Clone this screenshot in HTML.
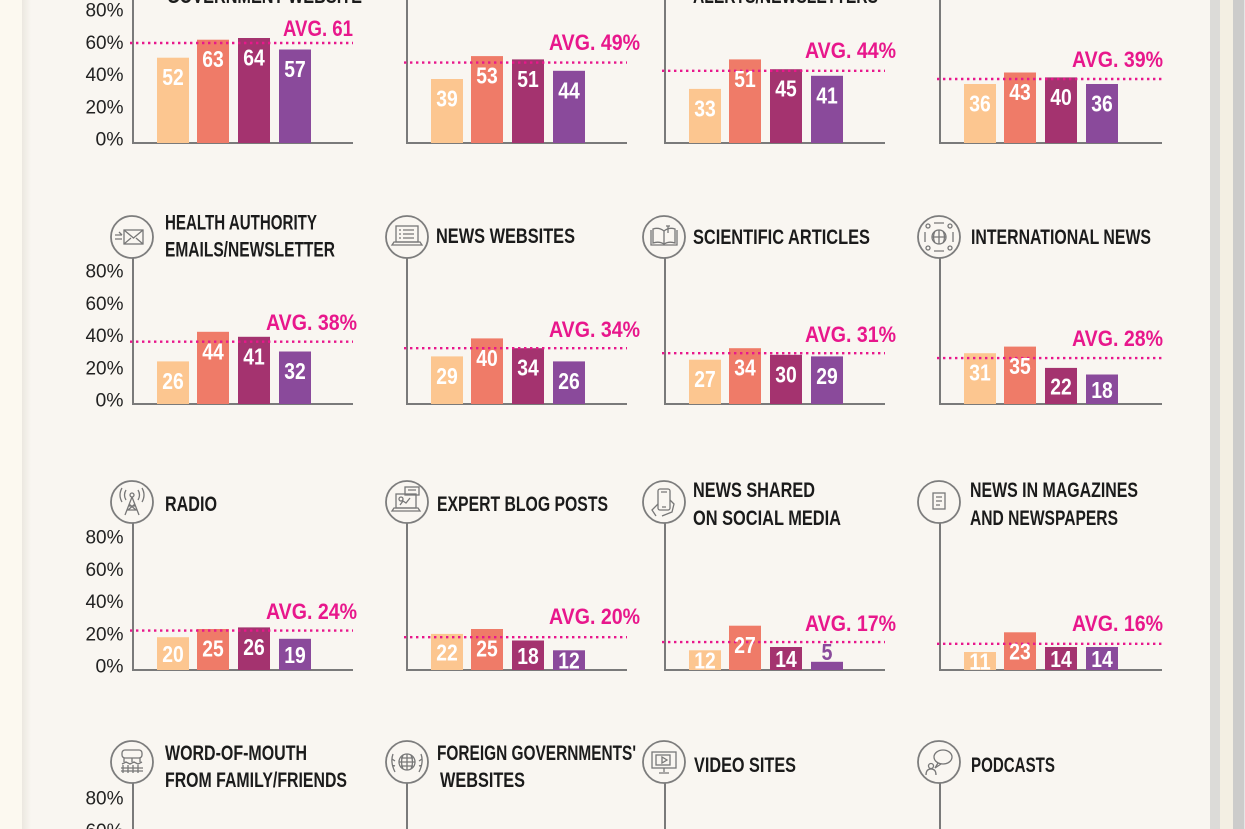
<!DOCTYPE html>
<html>
<head>
<meta charset="utf-8">
<style>
html,body{margin:0;padding:0;background:#f9f6f1;}
svg{display:block;}
.t{font-family:"Liberation Sans",sans-serif;font-weight:bold;font-size:21px;fill:#1b1b1b;}
.tk{font-family:"Liberation Sans",sans-serif;font-size:19px;fill:#222;}
.v{font-family:"Liberation Sans",sans-serif;font-weight:bold;font-size:23px;fill:#fff;}
.a{font-family:"Liberation Sans",sans-serif;font-weight:bold;font-size:22px;fill:#e8178c;}
.ax{stroke:#7a7a7a;stroke-width:2;fill:none;}
.avg{stroke:#e8178c;stroke-width:2.4;stroke-dasharray:2.4 3.6;fill:none;}
.cir{stroke:#7d7d7d;stroke-width:1.8;fill:#f9f6f1;}
.ic{fill:none;stroke:#777;stroke-width:1.3;}
.c1{fill:#fcc690;}.c2{fill:#ef7b68;}.c3{fill:#a4336f;}.c4{fill:#8a4a9b;}
</style>
</head>
<body>
<svg width="1245" height="829" viewBox="0 0 1245 829" xmlns="http://www.w3.org/2000/svg">
<defs>
<linearGradient id="sh" x1="0" x2="1" y1="0" y2="0">
<stop offset="0" stop-color="#ebe8e0"/><stop offset="1" stop-color="#f9f6f1"/>
</linearGradient>
</defs>
<rect x="0" y="0" width="1245" height="829" fill="#f9f6f1"/>
<rect x="0" y="0" width="22" height="829" fill="#fcf9f0"/>
<rect x="22" y="0" width="9" height="829" fill="url(#sh)"/>
<rect x="1210" y="0" width="10" height="829" fill="#dcdbd8"/>
<rect x="1220" y="0" width="13" height="829" fill="#f3efe3"/>
<rect x="1233" y="0" width="11" height="829" fill="#cccccb"/>
<rect x="1244" y="0" width="1" height="829" fill="#e6e6e6"/>

<!-- ============ ROW 1 (B=143) ============ -->
<text class="t" x="167" y="3" textLength="195" lengthAdjust="spacingAndGlyphs">GOVERNMENT WEBSITE</text>
<text class="t" x="693" y="3" textLength="185" lengthAdjust="spacingAndGlyphs">ALERTS/NEWSLETTERS</text>

<path class="ax" d="M133 0V143H353M407 0V143H627M665 0V143H885M940 0V143H1162"/>

<text class="tk" x="85.5" y="16.7" textLength="38" lengthAdjust="spacingAndGlyphs">80%</text>
<text class="tk" x="85.5" y="48.9" textLength="38" lengthAdjust="spacingAndGlyphs">60%</text>
<text class="tk" x="85.5" y="81.1" textLength="38" lengthAdjust="spacingAndGlyphs">40%</text>
<text class="tk" x="85.5" y="113.3" textLength="38" lengthAdjust="spacingAndGlyphs">20%</text>
<text class="tk" x="95.5" y="145.5" textLength="28" lengthAdjust="spacingAndGlyphs">0%</text>

<rect class="c1" x="157" y="57.7" width="32" height="85.3"/>
<rect class="c2" x="197" y="39.7" width="32" height="103.3"/>
<rect class="c3" x="238" y="38" width="32" height="105"/>
<rect class="c4" x="279" y="49.5" width="32" height="93.5"/>
<rect class="c1" x="431" y="79" width="32" height="64"/>
<rect class="c2" x="471" y="56.1" width="32" height="86.9"/>
<rect class="c3" x="512" y="59.4" width="32" height="83.6"/>
<rect class="c4" x="553" y="70.8" width="32" height="72.2"/>
<rect class="c1" x="689" y="88.9" width="32" height="54.1"/>
<rect class="c2" x="729" y="59.4" width="32" height="83.6"/>
<rect class="c3" x="770" y="69.2" width="32" height="73.8"/>
<rect class="c4" x="811" y="75.8" width="32" height="67.2"/>
<rect class="c1" x="964" y="84" width="32" height="59"/>
<rect class="c2" x="1004" y="72.5" width="32" height="70.5"/>
<rect class="c3" x="1045" y="77.4" width="32" height="65.6"/>
<rect class="c4" x="1086" y="84" width="32" height="59"/>

<path class="avg" d="M130 43H353M404 62.6H627M662 70.8H885M937 79H1162"/>

<text class="v" x="162.25" y="85.2" textLength="21.5" lengthAdjust="spacingAndGlyphs">52</text>
<text class="v" x="202.25" y="67.2" textLength="21.5" lengthAdjust="spacingAndGlyphs">63</text>
<text class="v" x="243.25" y="65.5" textLength="21.5" lengthAdjust="spacingAndGlyphs">64</text>
<text class="v" x="284.25" y="77" textLength="21.5" lengthAdjust="spacingAndGlyphs">57</text>
<text class="v" x="436.25" y="106.5" textLength="21.5" lengthAdjust="spacingAndGlyphs">39</text>
<text class="v" x="476.25" y="83.6" textLength="21.5" lengthAdjust="spacingAndGlyphs">53</text>
<text class="v" x="517.25" y="86.9" textLength="21.5" lengthAdjust="spacingAndGlyphs">51</text>
<text class="v" x="558.25" y="98.3" textLength="21.5" lengthAdjust="spacingAndGlyphs">44</text>
<text class="v" x="694.25" y="116.4" textLength="21.5" lengthAdjust="spacingAndGlyphs">33</text>
<text class="v" x="734.25" y="86.9" textLength="21.5" lengthAdjust="spacingAndGlyphs">51</text>
<text class="v" x="775.25" y="96.7" textLength="21.5" lengthAdjust="spacingAndGlyphs">45</text>
<text class="v" x="816.25" y="103.3" textLength="21.5" lengthAdjust="spacingAndGlyphs">41</text>
<text class="v" x="969.25" y="111.5" textLength="21.5" lengthAdjust="spacingAndGlyphs">36</text>
<text class="v" x="1009.25" y="100" textLength="21.5" lengthAdjust="spacingAndGlyphs">43</text>
<text class="v" x="1050.25" y="104.9" textLength="21.5" lengthAdjust="spacingAndGlyphs">40</text>
<text class="v" x="1091.25" y="111.5" textLength="21.5" lengthAdjust="spacingAndGlyphs">36</text>

<text class="a" x="283" y="36" textLength="70" lengthAdjust="spacingAndGlyphs">AVG. 61</text>
<text class="a" x="549" y="50" textLength="91" lengthAdjust="spacingAndGlyphs">AVG. 49%</text>
<text class="a" x="805" y="58" textLength="91" lengthAdjust="spacingAndGlyphs">AVG. 44%</text>
<text class="a" x="1072" y="67" textLength="91" lengthAdjust="spacingAndGlyphs">AVG. 39%</text>

<!-- ============ ROW 2 (B=404) ============ -->
<path class="ax" d="M133 258V404H353M407 258V404H627M665 258V404H885M940 258V404H1162"/>
<circle class="cir" cx="132" cy="237" r="21"/>
<circle class="cir" cx="407" cy="237" r="21"/>
<circle class="cir" cx="664" cy="237" r="21"/>
<circle class="cir" cx="939" cy="237" r="21"/>
<!-- icons -->
<g class="ic" transform="translate(132,237)">
<rect x="-8" y="-7" width="19" height="14"/><path d="M-8 -7L1.5 1L11 -7M-8 7L-1 1M11 7L4 1M-17 -2H-10M-17 2H-10M-13 -5L-10 -2"/>
</g>
<g class="ic" transform="translate(407,237)">
<rect x="-11" y="-11" width="22" height="16"/><path d="M-15 8H15L13 5H-13ZM-4 -7H7M-4 -3H7M-4 1H7M-8 -7H-6M-8 -3H-6M-8 1H-6"/>
</g>
<g class="ic" transform="translate(664,237)">
<path d="M-13 -7V8H13V-7M0 -6V8M-11 -8Q-5 -10 0 -6Q5 -10 11 -8V6Q5 4 0 7Q-5 4 -11 6Z"/><path d="M4 -11V-4M2 -11H6"/>
</g>
<g class="ic" transform="translate(939,237)">
<circle cx="0" cy="0" r="7"/><path d="M-7 0H7M0 -7V7M-4 -6Q-7 0 -4 6M4 -6Q7 0 4 6"/><circle cx="-11" cy="-11" r="2"/><circle cx="11" cy="-11" r="2"/><circle cx="-11" cy="11" r="2"/><circle cx="11" cy="11" r="2"/><path d="M-14 -5V5M14 -5V5M-5 -14H5M-5 14H5"/>
</g>

<text class="t" x="165" y="229.5" textLength="152" lengthAdjust="spacingAndGlyphs">HEALTH AUTHORITY</text>
<text class="t" x="165" y="256.5" textLength="170" lengthAdjust="spacingAndGlyphs">EMAILS/NEWSLETTER</text>
<text class="t" x="436" y="243" textLength="139" lengthAdjust="spacingAndGlyphs">NEWS WEBSITES</text>
<text class="t" x="693" y="244" textLength="177" lengthAdjust="spacingAndGlyphs">SCIENTIFIC  ARTICLES</text>
<text class="t" x="971" y="244" textLength="180" lengthAdjust="spacingAndGlyphs">INTERNATIONAL NEWS</text>

<text class="tk" x="85.5" y="277.7" textLength="38" lengthAdjust="spacingAndGlyphs">80%</text>
<text class="tk" x="85.5" y="309.9" textLength="38" lengthAdjust="spacingAndGlyphs">60%</text>
<text class="tk" x="85.5" y="342.1" textLength="38" lengthAdjust="spacingAndGlyphs">40%</text>
<text class="tk" x="85.5" y="374.3" textLength="38" lengthAdjust="spacingAndGlyphs">20%</text>
<text class="tk" x="95.5" y="406.5" textLength="28" lengthAdjust="spacingAndGlyphs">0%</text>

<rect class="c1" x="157" y="361.4" width="32" height="42.6"/>
<rect class="c2" x="197" y="331.8" width="32" height="72.2"/>
<rect class="c3" x="238" y="336.8" width="32" height="67.2"/>
<rect class="c4" x="279" y="351.5" width="32" height="52.5"/>
<rect class="c1" x="431" y="356.4" width="32" height="47.6"/>
<rect class="c2" x="471" y="338.4" width="32" height="65.6"/>
<rect class="c3" x="512" y="348.2" width="32" height="55.8"/>
<rect class="c4" x="553" y="361.4" width="32" height="42.6"/>
<rect class="c1" x="689" y="359.7" width="32" height="44.3"/>
<rect class="c2" x="729" y="348.2" width="32" height="55.8"/>
<rect class="c3" x="770" y="354.8" width="32" height="49.2"/>
<rect class="c4" x="811" y="356.4" width="32" height="47.6"/>
<rect class="c1" x="964" y="353.2" width="32" height="50.8"/>
<rect class="c2" x="1004" y="346.6" width="32" height="57.4"/>
<rect class="c3" x="1045" y="367.9" width="32" height="36.1"/>
<rect class="c4" x="1086" y="374.5" width="32" height="29.5"/>

<path class="avg" d="M130 341.7H353M404 348.2H627M662 353.2H885M937 358.1H1162"/>

<text class="v" x="162.25" y="388.9" textLength="21.5" lengthAdjust="spacingAndGlyphs">26</text>
<text class="v" x="202.25" y="359.3" textLength="21.5" lengthAdjust="spacingAndGlyphs">44</text>
<text class="v" x="243.25" y="364.3" textLength="21.5" lengthAdjust="spacingAndGlyphs">41</text>
<text class="v" x="284.25" y="379" textLength="21.5" lengthAdjust="spacingAndGlyphs">32</text>
<text class="v" x="436.25" y="383.9" textLength="21.5" lengthAdjust="spacingAndGlyphs">29</text>
<text class="v" x="476.25" y="365.9" textLength="21.5" lengthAdjust="spacingAndGlyphs">40</text>
<text class="v" x="517.25" y="375.7" textLength="21.5" lengthAdjust="spacingAndGlyphs">34</text>
<text class="v" x="558.25" y="388.9" textLength="21.5" lengthAdjust="spacingAndGlyphs">26</text>
<text class="v" x="694.25" y="387.2" textLength="21.5" lengthAdjust="spacingAndGlyphs">27</text>
<text class="v" x="734.25" y="375.7" textLength="21.5" lengthAdjust="spacingAndGlyphs">34</text>
<text class="v" x="775.25" y="382.3" textLength="21.5" lengthAdjust="spacingAndGlyphs">30</text>
<text class="v" x="816.25" y="383.9" textLength="21.5" lengthAdjust="spacingAndGlyphs">29</text>
<text class="v" x="969.25" y="380.7" textLength="21.5" lengthAdjust="spacingAndGlyphs">31</text>
<text class="v" x="1009.25" y="374.1" textLength="21.5" lengthAdjust="spacingAndGlyphs">35</text>
<text class="v" x="1050.25" y="394.5" textLength="21.5" lengthAdjust="spacingAndGlyphs">22</text>
<text class="v" x="1091.25" y="397.8" textLength="21.5" lengthAdjust="spacingAndGlyphs">18</text>

<text class="a" x="266" y="330" textLength="91" lengthAdjust="spacingAndGlyphs">AVG. 38%</text>
<text class="a" x="549" y="337" textLength="91" lengthAdjust="spacingAndGlyphs">AVG. 34%</text>
<text class="a" x="805" y="342" textLength="91" lengthAdjust="spacingAndGlyphs">AVG. 31%</text>
<text class="a" x="1072" y="346" textLength="91" lengthAdjust="spacingAndGlyphs">AVG. 28%</text>

<!-- ============ ROW 3 (B=670) ============ -->
<path class="ax" d="M133 523V670H353M407 523V670H627M665 523V670H885M940 523V670H1162"/>
<circle class="cir" cx="132" cy="502" r="21"/>
<circle class="cir" cx="407" cy="502" r="21"/>
<circle class="cir" cx="664" cy="502" r="21"/>
<circle class="cir" cx="939" cy="502" r="21"/>
<g class="ic" transform="translate(132,502)">
<path d="M0 -5L-7 13M0 -5L7 13M-4 4H4M-5 8H5M-3 2L4 8M3 2L-4 8"/><circle cx="0" cy="-7" r="2"/><path d="M-6 -12Q-9 -7 -6 -2M6 -12Q9 -7 6 -2M-10 -14Q-14 -7 -10 0M10 -14Q14 -7 10 0"/>
</g>
<g class="ic" transform="translate(407,502)">
<rect x="-11" y="-8" width="20" height="14"/><path d="M-15 9H13L11 6H-13Z"/><rect x="-2" y="-15" width="14" height="8"/><path d="M1 -12H9M-7 3L-4 -1L-1 1L3 -4"/><circle cx="-6" cy="-3" r="2"/>
</g>
<g class="ic" transform="translate(664,502)">
<rect x="-6" y="-13" width="12" height="21" rx="2"/><path d="M-3 -10H3M-2 5H2M-6 2L-12 8L-8 14M6 -2L10 2L8 10L-2 14"/>
</g>
<g class="ic" transform="translate(939,502)">
<rect x="-6" y="-9" width="12" height="16"/><path d="M-3 -5H3M-3 -1H3M-3 3H1"/>
</g>

<text class="t" x="165" y="511" textLength="52" lengthAdjust="spacingAndGlyphs">RADIO</text>
<text class="t" x="437" y="511" textLength="171" lengthAdjust="spacingAndGlyphs">EXPERT BLOG POSTS</text>
<text class="t" x="693" y="497" textLength="122" lengthAdjust="spacingAndGlyphs">NEWS SHARED</text>
<text class="t" x="693" y="525" textLength="148" lengthAdjust="spacingAndGlyphs">ON SOCIAL MEDIA</text>
<text class="t" x="970" y="497" textLength="168" lengthAdjust="spacingAndGlyphs">NEWS IN MAGAZINES</text>
<text class="t" x="970" y="525" textLength="148" lengthAdjust="spacingAndGlyphs">AND NEWSPAPERS</text>

<text class="tk" x="85.5" y="543.7" textLength="38" lengthAdjust="spacingAndGlyphs">80%</text>
<text class="tk" x="85.5" y="575.9" textLength="38" lengthAdjust="spacingAndGlyphs">60%</text>
<text class="tk" x="85.5" y="608.1" textLength="38" lengthAdjust="spacingAndGlyphs">40%</text>
<text class="tk" x="85.5" y="640.3" textLength="38" lengthAdjust="spacingAndGlyphs">20%</text>
<text class="tk" x="95.5" y="672.5" textLength="28" lengthAdjust="spacingAndGlyphs">0%</text>

<rect class="c1" x="157" y="637.2" width="32" height="32.8"/>
<rect class="c2" x="197" y="629" width="32" height="41"/>
<rect class="c3" x="238" y="627.4" width="32" height="42.6"/>
<rect class="c4" x="279" y="638.8" width="32" height="31.2"/>
<rect class="c1" x="431" y="633.9" width="32" height="36.1"/>
<rect class="c2" x="471" y="629" width="32" height="41"/>
<rect class="c3" x="512" y="640.5" width="32" height="29.5"/>
<rect class="c4" x="553" y="650.3" width="32" height="19.7"/>
<rect class="c1" x="689" y="650.3" width="32" height="19.7"/>
<rect class="c2" x="729" y="625.7" width="32" height="44.3"/>
<rect class="c3" x="770" y="647" width="32" height="23"/>
<rect class="c4" x="811" y="661.8" width="32" height="8.2"/>
<rect class="c1" x="964" y="652" width="32" height="18"/>
<rect class="c2" x="1004" y="632.3" width="32" height="37.7"/>
<rect class="c3" x="1045" y="647" width="32" height="23"/>
<rect class="c4" x="1086" y="647" width="32" height="23"/>

<path class="avg" d="M130 630.6H353M404 637.2H627M662 642.1H885M937 643.8H1162"/>

<text class="v" x="162.25" y="662.1" textLength="21.5" lengthAdjust="spacingAndGlyphs">20</text>
<text class="v" x="202.25" y="656.5" textLength="21.5" lengthAdjust="spacingAndGlyphs">25</text>
<text class="v" x="243.25" y="654.9" textLength="21.5" lengthAdjust="spacingAndGlyphs">26</text>
<text class="v" x="284.25" y="662.9" textLength="21.5" lengthAdjust="spacingAndGlyphs">19</text>
<text class="v" x="436.25" y="660.5" textLength="21.5" lengthAdjust="spacingAndGlyphs">22</text>
<text class="v" x="476.25" y="656.5" textLength="21.5" lengthAdjust="spacingAndGlyphs">25</text>
<text class="v" x="517.25" y="663.8" textLength="21.5" lengthAdjust="spacingAndGlyphs">18</text>
<text class="v" x="558.25" y="668.7" textLength="21.5" lengthAdjust="spacingAndGlyphs">12</text>
<text class="v" x="694.25" y="668.7" textLength="21.5" lengthAdjust="spacingAndGlyphs">12</text>
<text class="v" x="734.25" y="653.2" textLength="21.5" lengthAdjust="spacingAndGlyphs">27</text>
<text class="v" x="775.25" y="667" textLength="21.5" lengthAdjust="spacingAndGlyphs">14</text>
<text class="v" x="821.5" y="660" textLength="11" lengthAdjust="spacingAndGlyphs" style="fill:#8a4a9b">5</text>
<text class="v" x="969.25" y="669.5" textLength="21.5" lengthAdjust="spacingAndGlyphs">11</text>
<text class="v" x="1009.25" y="659.7" textLength="21.5" lengthAdjust="spacingAndGlyphs">23</text>
<text class="v" x="1050.25" y="667" textLength="21.5" lengthAdjust="spacingAndGlyphs">14</text>
<text class="v" x="1091.25" y="667" textLength="21.5" lengthAdjust="spacingAndGlyphs">14</text>

<text class="a" x="266" y="619" textLength="91" lengthAdjust="spacingAndGlyphs">AVG. 24%</text>
<text class="a" x="549" y="624" textLength="91" lengthAdjust="spacingAndGlyphs">AVG. 20%</text>
<text class="a" x="805" y="631" textLength="91" lengthAdjust="spacingAndGlyphs">AVG. 17%</text>
<text class="a" x="1072" y="631" textLength="91" lengthAdjust="spacingAndGlyphs">AVG. 16%</text>

<!-- ============ ROW 4 (B=931) ============ -->
<path class="ax" d="M133 783V829M407 783V829M665 783V829M940 783V829"/>
<circle class="cir" cx="132" cy="762" r="21"/>
<circle class="cir" cx="407" cy="762" r="21"/>
<circle class="cir" cx="664" cy="762" r="21"/>
<circle class="cir" cx="939" cy="762" r="21"/>
<g class="ic" transform="translate(132,762)">
<rect x="-10" y="-12" width="20" height="8" rx="3"/><path d="M-8 -4V0M8 -4V0M0 -4V0M-10 2L-6 0L-2 2L2 0L6 2L10 0M-9 3V11M-4 3V11M1 3V11M6 3V11M-11 6H11M-11 9H11"/>
</g>
<g class="ic" transform="translate(407,762)">
<circle cx="0" cy="0" r="8"/><path d="M-8 0H8M0 -8V8M-4 -7Q-7 0 -4 7M4 -7Q7 0 4 7M-6 -4H6M-6 4H6M-14 -8Q-17 0 -12 10M14 -8Q17 0 12 10M-15 -3L-12 -1M-15 3L-12 4M15 -3L12 -1M15 3L12 4"/>
</g>
<g class="ic" transform="translate(664,762)">
<rect x="-12" y="-10" width="24" height="16"/><rect x="-8" y="-7" width="14" height="10"/><path d="M-2 -5V1L3 -2Z M0 6V10M-5 11H5"/>
</g>
<g class="ic" transform="translate(939,762)">
<ellipse cx="4" cy="-5" rx="9" ry="7"/><path d="M-1 1L-4 6L2 2M-8 0V0"/><circle cx="-8" cy="4" r="2.5"/><path d="M-13 13Q-13 7 -8 7Q-3 7 -3 13"/>
</g>

<text class="t" x="165" y="760" textLength="142" lengthAdjust="spacingAndGlyphs">WORD-OF-MOUTH</text>
<text class="t" x="165" y="787" textLength="182" lengthAdjust="spacingAndGlyphs">FROM FAMILY/FRIENDS</text>
<text class="t" x="437" y="760" textLength="199" lengthAdjust="spacingAndGlyphs">FOREIGN GOVERNMENTS'</text>
<text class="t" x="440" y="787" textLength="85" lengthAdjust="spacingAndGlyphs">WEBSITES</text>
<text class="t" x="694" y="772" textLength="102" lengthAdjust="spacingAndGlyphs">VIDEO SITES</text>
<text class="t" x="971" y="772" textLength="84" lengthAdjust="spacingAndGlyphs">PODCASTS</text>

<text class="tk" x="85.5" y="804.7" textLength="38" lengthAdjust="spacingAndGlyphs">80%</text>
<text class="tk" x="85.5" y="836.9" textLength="38" lengthAdjust="spacingAndGlyphs">60%</text>
</svg>
</body>
</html>
